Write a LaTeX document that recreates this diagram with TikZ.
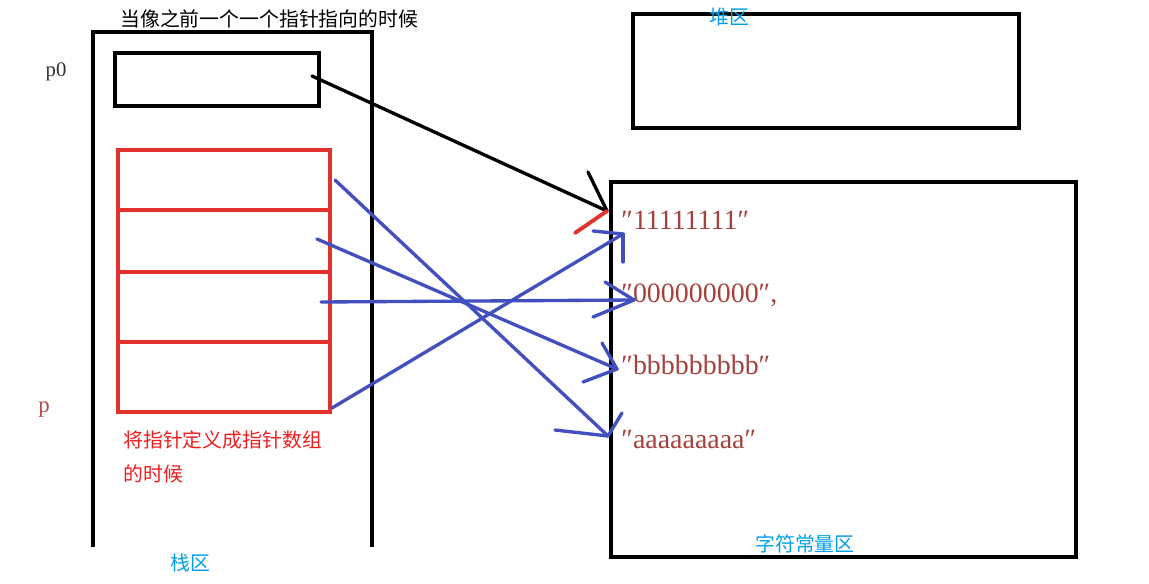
\documentclass[tikz,border=0pt]{standalone}
\usepackage{fontspec}
\setmainfont{Liberation Serif}
\newfontfamily\cjk{Noto Sans CJK SC}
\definecolor{myred}{RGB}{225,50,45}
\definecolor{mytxtred}{RGB}{240,30,30}
\definecolor{myblue}{RGB}{65,80,190}
\definecolor{mystr}{RGB}{165,65,60}
\definecolor{mycyan}{RGB}{0,160,233}
\definecolor{mygray}{RGB}{50,50,50}
\definecolor{mybrown}{RGB}{170,80,75}
\begin{document}
\begin{tikzpicture}[x=0.02cm,y=-0.02cm,
  blk/.style={draw=black,line width=2.3pt},
  boxnode/.style={blk,rectangle,inner sep=0pt,anchor=north west},
  redl/.style={draw=myred,line width=2.2pt},
  ptr/.style={draw=black,line width=1.9pt,line cap=round},
  blu/.style={draw=myblue,line width=1.9pt,line cap=round},
  cjkt/.style={font=\cjk\fontsize{11.3}{19.8}\selectfont,inner sep=0pt},
  zone/.style={cjkt,text=mycyan},
  str/.style={font=\fontsize{15.9}{18}\selectfont,text=mystr,inner sep=0pt,anchor=base west},
]
\useasboundingbox[fill=white] (0,0) rectangle (1149,584);

% stack area (open at bottom)
\draw[blk,line join=miter] (93,547) -- (93,32) -- (372,32) -- (372,547);

% p0 box
\node (p0box) [boxnode,minimum width=4.08cm,minimum height=1.06cm] at (113,51) {};

% red pointer array
\draw[redl] (118,150) rectangle (330,412);
\draw[redl] (118,210) -- (330,210);
\draw[redl] (118,272) -- (330,272);
\draw[redl] (118,342) -- (330,342);

% heap and string constant area
\node (heap) [boxnode,minimum width=7.72cm,minimum height=2.28cm] at (631,12) {};
\node (strarea) [boxnode,minimum width=9.3cm,minimum height=7.5cm] at (609,180) {};

% texts
\node (title) [cjkt,anchor=west] at (120,19) {当像之前一个一个指针指向的时候};
\node (redtxt) [cjkt,text=mytxtred,anchor=north west,align=left] at (123,430) {将指针定义成指针数组\\的时候};
\node (zstack) [zone] at (190,563) {栈区};
\node (zheap) [zone] at (729,17) {堆区};
\node (zstr) [zone] at (805,544) {字符常量区};
\node (lp0) [font=\fontsize{11.8}{13}\selectfont,text=mygray,inner sep=0pt] at (56,72) {p0};
\node (lp) [font=\fontsize{13}{14}\selectfont,text=mybrown,inner sep=0pt] at (44,410) {p};

\node (s1) [str] at (621,230) {″11111111″};
\node (s0) [str] at (621,302) {″000000000″,};
\node (sb) [str] at (621,374) {″bbbbbbbbb″};
\node (sa) [str] at (621,448) {″aaaaaaaaa″};

% black pointer from p0
\coordinate (k0s) at (312,76);
\coordinate (k0e) at (607,211);
\coordinate (k0h) at (588,172);
\coordinate (r0h) at (575,233);
\draw[ptr] (k0s) -- (k0e);
\draw[ptr] (k0h) -- (k0e);
\draw[redl,line cap=round] (r0h) -- (k0e);

% blue pointers from the array
\coordinate (a1s) at (335,180);
\coordinate (a1e) at (608,436);
\coordinate (a1h) at (555,430);
\coordinate (a1g) at (622,413);
\draw[blu] (a1s) -- (a1e);
\draw[blu] (a1h) -- (a1e);
\draw[blu] (a1g) -- (a1e);

\coordinate (a2s) at (317,239);
\coordinate (a2e) at (617,369);
\coordinate (a2h) at (602,343);
\coordinate (a2g) at (583,382);
\draw[blu] (a2s) -- (a2e);
\draw[blu] (a2h) -- (a2e);
\draw[blu] (a2g) -- (a2e);

\coordinate (a3s) at (321,302);
\coordinate (a3e) at (634,300);
\coordinate (a3h) at (605,282);
\coordinate (a3g) at (593,317);
\draw[blu] (a3s) -- (a3e);
\draw[blu] (a3h) -- (a3e);
\draw[blu] (a3g) -- (a3e);

\coordinate (a4s) at (332,408);
\coordinate (a4e) at (623,234);
\coordinate (a4h) at (593,231);
\coordinate (a4g) at (623,262);
\draw[blu] (a4s) -- (a4e);
\draw[blu] (a4h) -- (a4e);
\draw[blu] (a4g) -- (a4e);
\end{tikzpicture}
\end{document}
